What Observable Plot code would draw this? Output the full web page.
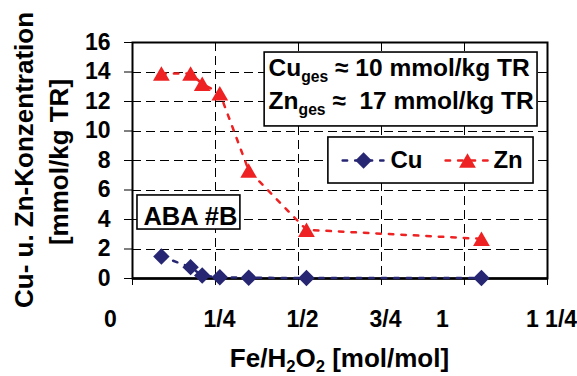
<!DOCTYPE html>
<html><head><meta charset="utf-8">
<script src="https://cdn.jsdelivr.net/npm/d3@7"></script>
<script src="https://cdn.jsdelivr.net/npm/@observablehq/plot@0.6"></script>
<style>
body{margin:0;background:#fff}
#chart svg{display:block}
</style>
</head><body><div id="chart"></div>
<script>
// ---- data ----
const seriesNames = ["Cu", "Zn"];
const seriesColors = ["#262673", "#ee2222"];
const ratio = [0.087, 0.175, 0.21, 0.263, 0.35, 0.524, 1.051];
const cuValues = [1.49, 0.77, 0.2, 0.09, 0.05, 0.03, 0.03];
const znValues = [13.9, 13.9, 13.2, 12.56, 7.32, 3.3, 2.69];
const xTicks = [0, 0.25, 0.5, 0.75, 1, 1.25];
const xTickLabels = ["0", "1/4", "1/2", "3/4", "1", "1 1/4"];
const yTicks = [0, 2, 4, 6, 8, 10, 12, 14, 16];
const annotationLines = ["Cu_{ges} ≈ 10 mmol/kg TR", "Zn_{ges} ≈  17 mmol/kg TR"];
const sampleLabel = "ABA #B";
const xTitle = "Fe/H_{2}O_{2} [mol/mol]";
const yTitleLines = ["Cu- u. Zn-Konzentration", "[mmol/kg TR]"];

const rows = ratio.flatMap((r, i) => [
  {series: "Cu", x: r, y: cuValues[i]},
  {series: "Zn", x: r, y: znValues[i]}
]);
const cuRows = rows.filter(d => d.series === "Cu");
const znRows = rows.filter(d => d.series === "Zn");

// legend layout (data coordinates)
const legendSamples = [
  {series: "Cu", x1: 0.633, xm: 0.696, x2: 0.756, xt: 0.777},
  {series: "Zn", x1: 0.943, xm: 1.009, x2: 1.072, xt: 1.087}
];
const legendY = 8.0;
const legendLineRows = legendSamples.flatMap(s => [
  {series: s.series, x: s.x1, y: legendY},
  {series: s.series, x: s.x2, y: legendY}
]);

const boxes = [
  {x1: 0.398, x2: 1.220, y1: 10.31, y2: 15.32},
  {x1: 0.590, x2: 1.208, y1: 6.44, y2: 9.56},
  {x1: 0.015, x2: 0.325, y1: 3.32, y2: 5.63}
];

const dash = "4.5,8";
const grid = {stroke: "black", strokeOpacity: 1, strokeWidth: 1, strokeDasharray: "9,5", shapeRendering: "crispEdges"};
const tickFont = 23;

const plot = Plot.plot({
  width: 577, height: 376,
  marginLeft: 132, marginRight: 30, marginTop: 42, marginBottom: 98,
  style: {fontFamily: '"Liberation Sans", Arial, sans-serif', fontWeight: "bold", fontSize: "23px", background: "white", color: "black", overflow: "visible"},
  x: {domain: [0, 1.25]},
  y: {domain: [0, 16]},
  color: {domain: seriesNames, range: seriesColors},
  marks: [
    Plot.gridY(yTicks.filter(v => v > 0 && v < 16), grid),
    Plot.gridX(xTicks.filter(v => v > 0 && v < 1.25), grid),
    Plot.rect(boxes, {x1: "x1", x2: "x2", y1: "y1", y2: "y2", fill: "white", stroke: "black", strokeWidth: 1.6}),
    Plot.frame({stroke: "black", strokeWidth: 2}),
    Plot.ruleY([0], {stroke: "black", strokeWidth: 2.5}),
    Plot.axisY(yTicks, {tickSize: 8, tickPadding: 14, fontSize: tickFont, label: null, tickFormat: d => String(d)}),
    Plot.axisX(xTicks, {tickSize: 7, tickFormat: () => "", label: null}),
    Plot.text(xTicks.map((v, i) => ({x: v, label: xTickLabels[i]})).filter(d => d.x !== 0 && d.x !== 1),
      {x: "x", text: "label", frameAnchor: "bottom", lineAnchor: "top", dy: 32, dx: 4, fontSize: tickFont}),
    Plot.text(xTicks.map((v, i) => ({x: v, label: xTickLabels[i]})).filter(d => d.x === 0 || d.x === 1),
      {x: "x", text: "label", frameAnchor: "bottom", lineAnchor: "top", dy: 32, dx: -22, fontSize: tickFont}),
    Plot.line(rows, {x: "x", y: "y", z: "series", stroke: "series", strokeWidth: 2.5, strokeDasharray: dash}),
    Plot.dot(cuRows, {x: "x", y: "y", symbol: "diamond2", fill: "series", r: 7.4}),
    Plot.dot(znRows, {x: "x", y: "y", symbol: "triangle2", fill: "series", r: 8, dy: 2.4}),
    // legend
    Plot.line(legendLineRows, {x: "x", y: "y", z: "series", stroke: "series", strokeWidth: 2.5, strokeDasharray: dash}),
    Plot.dot(legendSamples.filter(s => s.series === "Cu"), {x: "xm", y: () => legendY, symbol: "diamond2", fill: "series", r: 7.4}),
    Plot.dot(legendSamples.filter(s => s.series === "Zn"), {x: "xm", y: () => legendY, symbol: "triangle2", fill: "series", r: 8, dy: 2.4}),
    Plot.text(legendSamples, {x: "xt", y: () => legendY, text: "series", textAnchor: "start", fontSize: 24, fill: "black"}),
    // annotation texts
    Plot.text([sampleLabel], {x: () => 0.033, y: () => 4.2, text: d => d, textAnchor: "start", fontSize: 25.5, fill: "black"}),
    Plot.text(annotationLines, {x: () => 0.41, y: (d, i) => [14.28, 12.05][i], text: d => d, textAnchor: "start", fontSize: 24.5, fill: "black"})
  ]
});

// turn "_{..}" into subscripts
function applySubscripts(textEl, subShift) {
  const s = textEl.textContent;
  if (!s.includes("_{")) return;
  const parts = s.split(/_\{([^}]*)\}/);
  while (textEl.firstChild) textEl.removeChild(textEl.firstChild);
  const ns = "http://www.w3.org/2000/svg";
  let shifted = false;
  parts.forEach((p, i) => {
    const t = document.createElementNS(ns, "tspan");
    t.textContent = p;
    if (i % 2 === 1) {
      t.setAttribute("font-size", "0.64em");
      t.setAttribute("dy", subShift);
      shifted = true;
    } else if (shifted) {
      t.setAttribute("dy", -subShift);
      shifted = false;
    }
    textEl.appendChild(t);
  });
  textEl.style.whiteSpace = "pre";
}
plot.querySelectorAll("text").forEach(t => applySubscripts(t, 6));

const svg = d3.select(plot);
const font = '"Liberation Sans", Arial, sans-serif';
const xt = svg.append("text")
  .attr("x", 339.5).attr("y", 367)
  .attr("text-anchor", "middle")
  .attr("font-size", 26).attr("font-weight", "bold").attr("font-family", font)
  .attr("fill", "black")
  .text(xTitle);
applySubscripts(xt.node(), 5);

[[33, 160], [68, 162]].forEach(([tx, ty], i) => {
  svg.append("text")
    .attr("transform", `translate(${tx},${ty}) rotate(-90)`)
    .attr("text-anchor", "middle")
    .attr("font-size", 26).attr("font-weight", "bold").attr("font-family", font)
    .attr("fill", "black")
    .text(yTitleLines[i]);
});

document.getElementById("chart").appendChild(plot);
</script>
</body></html>
